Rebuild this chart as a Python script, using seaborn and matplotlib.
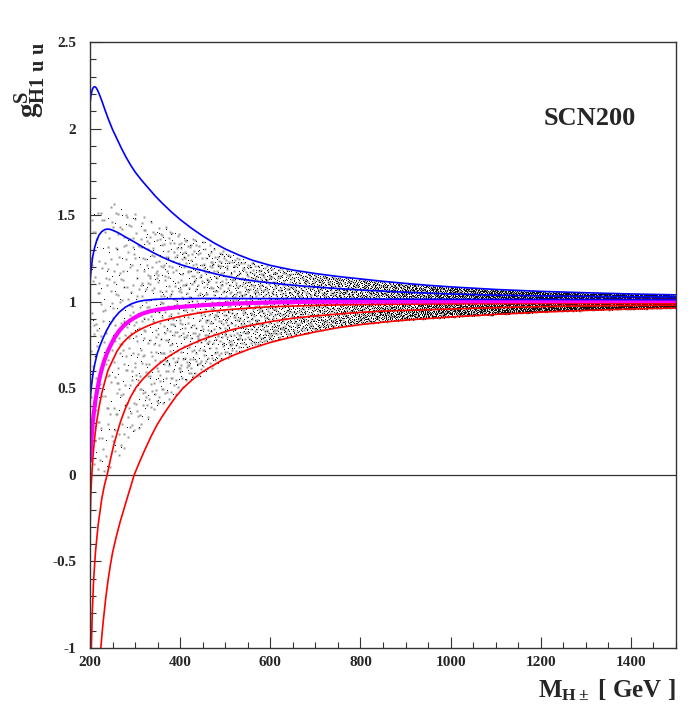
import numpy as np
import pandas as pd
import matplotlib
matplotlib.use("Agg")
import matplotlib.pyplot as plt
import seaborn as sns
from matplotlib.ticker import MultipleLocator, FuncFormatter

# curves: charged Higgs mass [GeV] and coupling
m_blue1 = [200, 202, 205, 208, 211, 214, 218, 222, 227, 233, 240, 250, 260, 270, 280, 290, 300, 315,
           330, 345, 360, 380, 400, 425, 450, 475, 500, 530, 560, 600, 650, 700, 750, 800, 850, 900,
           950, 1000, 1100, 1200, 1300, 1400, 1500]
g_blue1 = [2.14, 2.19, 2.225, 2.24, 2.242, 2.235, 2.215, 2.19, 2.155, 2.11, 2.06, 1.995, 1.94, 1.885,
           1.835, 1.79, 1.75, 1.70, 1.655, 1.61, 1.57, 1.52, 1.475, 1.425, 1.38, 1.34, 1.305, 1.27,
           1.24, 1.21, 1.183, 1.163, 1.146, 1.132, 1.118, 1.106, 1.095, 1.086, 1.071, 1.06, 1.052,
           1.045, 1.04]

m_blue2 = [200, 201, 203, 206, 210, 215, 220, 226, 232, 238, 245, 255, 265, 280, 300, 320, 340, 360,
           380, 400, 425, 450, 475, 500, 535, 575, 625, 675, 750, 800, 900, 1000, 1100, 1200, 1300,
           1400, 1500]
g_blue2 = [1.10, 1.14, 1.20, 1.26, 1.31, 1.355, 1.385, 1.405, 1.416, 1.42, 1.418, 1.408, 1.395, 1.372,
           1.343, 1.312, 1.284, 1.258, 1.235, 1.215, 1.196, 1.18, 1.163, 1.148, 1.131, 1.116, 1.102,
           1.09, 1.076, 1.068, 1.055, 1.045, 1.038, 1.034, 1.031, 1.029, 1.028]

m_blue3 = [200, 202, 204, 207, 211, 216, 222, 229, 237, 245, 255, 265, 278, 292, 305, 320, 340, 370,
           450, 600, 800, 1000, 1500]
g_blue3 = [0.42, 0.48, 0.53, 0.59, 0.645, 0.70, 0.745, 0.79, 0.835, 0.872, 0.91, 0.94, 0.968, 0.988,
           1.0, 1.008, 1.013, 1.017, 1.019, 1.018, 1.016, 1.014, 1.012]

m_mag = [200, 201, 202, 204, 206, 209, 212, 216, 220, 225, 231, 238, 246, 255, 265, 275, 288, 300,
         315, 330, 350, 375, 400, 450, 500, 600, 700, 1000, 1500]
g_mag = [0.08, 0.11, 0.15, 0.23, 0.30, 0.37, 0.43, 0.49, 0.545, 0.60, 0.655, 0.705, 0.75, 0.795,
         0.833, 0.862, 0.89, 0.91, 0.93, 0.943, 0.954, 0.963, 0.97, 0.98, 0.988, 0.996, 1.0, 1.003,
         1.005]

m_red1 = [200, 201, 202, 204, 207, 211, 215, 220, 226, 233, 240, 250, 260, 272, 285, 300, 315, 333,
          355, 380, 400, 430, 460, 500, 550, 600, 700, 800, 1000, 1200, 1500]
g_red1 = [-0.32, -0.20, -0.10, 0.0, 0.12, 0.23, 0.31, 0.39, 0.47, 0.54, 0.605, 0.66, 0.715, 0.76,
          0.795, 0.823, 0.845, 0.866, 0.887, 0.903, 0.915, 0.93, 0.943, 0.953, 0.963, 0.971, 0.979,
          0.984, 0.988, 0.99, 0.99]

m_red2 = [201, 203, 205, 208, 212, 218, 226, 232, 238, 245, 252, 260, 268, 278, 290, 302, 316, 333,
          350, 375, 400, 425, 450, 480, 510, 550, 600, 650, 700, 777, 850, 1000, 1100, 1200, 1300,
          1400, 1500]
g_red2 = [-1.25, -1.0, -0.80, -0.61, -0.45, -0.29, -0.14, -0.06, 0.0, 0.085, 0.165, 0.24, 0.31, 0.38,
          0.45, 0.505, 0.55, 0.595, 0.635, 0.685, 0.725, 0.755, 0.783, 0.81, 0.835, 0.86, 0.885,
          0.905, 0.918, 0.935, 0.946, 0.958, 0.966, 0.972, 0.976, 0.978, 0.98]

m_red3 = [222, 224, 227, 230, 235, 240, 245, 250, 258, 267, 275, 283, 290, 298, 310, 320, 335, 349,
          362, 375, 390, 406, 425, 444, 465, 490, 520, 555, 600, 650, 700, 750, 800, 850, 900, 1000,
          1100, 1200, 1300, 1400, 1500]
g_red3 = [-1.06, -1.0, -0.91, -0.83, -0.71, -0.61, -0.525, -0.45, -0.36, -0.27, -0.20, -0.13, -0.07,
          0.0, 0.075, 0.135, 0.22, 0.29, 0.345, 0.395, 0.45, 0.50, 0.545, 0.585, 0.62, 0.658, 0.693,
          0.728, 0.765, 0.798, 0.826, 0.85, 0.868, 0.882, 0.894, 0.912, 0.927, 0.94, 0.95, 0.958,
          0.964]

# scan cloud: band limits at 50 GeV bin edges and number of points per bin
scan_edges = list(range(200, 1501, 50))
scan_lo = [-0.05, 0.05, 0.22, 0.38, 0.49, 0.585, 0.665, 0.735, 0.77, 0.80, 0.83, 0.853, 0.87, 0.882,
           0.893, 0.902, 0.91, 0.918, 0.925, 0.933, 0.94, 0.945, 0.95, 0.954, 0.957, 0.961, 0.964]
scan_hi = [1.50, 1.59, 1.52, 1.45, 1.40, 1.35, 1.29, 1.235, 1.205, 1.18, 1.16, 1.144, 1.13, 1.116,
           1.104, 1.093, 1.084, 1.076, 1.069, 1.063, 1.058, 1.054, 1.05, 1.047, 1.044, 1.041, 1.039]
n_black = [35, 45, 60, 80, 100, 125, 155, 185, 220, 255, 290, 320, 345, 365, 385, 400, 410, 420, 430,
           440, 440, 440, 440, 440, 440, 440]
n_gray = [85, 105, 115, 125, 130, 130, 125, 120, 110, 100, 95, 90, 85, 80, 75, 75, 75, 75, 75, 75,
          75, 75, 75, 75, 75, 75]


def halton(i, b):
    f, r = 1.0, 0.0
    while i > 0:
        f /= b
        r += f * (i % b)
        i //= b
    return r


def spread(counts, b1, b2, start, leap):
    # lay the points of each bin out evenly inside the band
    rows = []
    k = start
    for j, n in enumerate(counts):
        e0, e1 = scan_edges[j], scan_edges[j + 1]
        for _ in range(n):
            k += 1
            u, v = halton(k * leap, b1), halton(k * leap, b2)
            lo = scan_lo[j] + u * (scan_lo[j + 1] - scan_lo[j])
            hi = scan_hi[j] + u * (scan_hi[j + 1] - scan_hi[j])
            rows.append((e0 + u * (e1 - e0), lo + v * (hi - lo)))
    return pd.DataFrame(rows, columns=["M", "g"])


scan_black = spread(n_black, 2, 3, 0, 409)
scan_gray = spread(n_gray, 5, 7, 29, 211)

sns.set_style("ticks")
plt.rcParams["font.family"] = ["Liberation Serif", "DejaVu Serif"]
plt.rcParams["font.weight"] = "bold"
plt.rcParams["mathtext.fontset"] = "custom"
plt.rcParams["mathtext.rm"] = "Liberation Serif:bold"
plt.rcParams["mathtext.bf"] = "Liberation Serif:bold"
plt.rcParams["mathtext.it"] = "Liberation Serif:bold"

fig = plt.figure(figsize=(6.96, 7.14), dpi=100)
ax = fig.add_axes([0.1293, 0.0924, 0.8420, 0.8487])

sns.scatterplot(data=scan_gray, x="M", y="g", color="#9a9a9a", s=2.07, marker="s", linewidth=0,
                antialiased=False, snap=False, ax=ax)
sns.scatterplot(data=scan_black, x="M", y="g", color="#111111", s=0.52, marker="s", linewidth=0,
                antialiased=False, snap=False, ax=ax)

ax.axhline(0, color="#333333", lw=0.9, zorder=1)

for m, g, c, w in [(m_red3, g_red3, "red", 1.2), (m_red2, g_red2, "red", 1.2), (m_red1, g_red1, "red", 1.2),
                   (m_mag, g_mag, "magenta", 3.0), (m_blue3, g_blue3, "blue", 1.2),
                   (m_blue2, g_blue2, "blue", 1.2), (m_blue1, g_blue1, "blue", 1.2)]:
    sns.lineplot(x=m, y=g, color=c, lw=w, sort=False, estimator=None, ax=ax)

ax.set_xlim(200, 1500)
ax.set_ylim(-1, 2.5)
ax.xaxis.set_major_locator(MultipleLocator(200))
ax.xaxis.set_minor_locator(MultipleLocator(50))
ax.yaxis.set_major_locator(MultipleLocator(0.5))
ax.yaxis.set_minor_locator(MultipleLocator(0.1))
fmt = FuncFormatter(lambda v, p: f"{v:g}")
ax.xaxis.set_major_formatter(fmt)
ax.yaxis.set_major_formatter(fmt)
ax.tick_params(which="both", direction="in", top=False, right=False, width=0.8, color="#333333",
               labelsize=11)
ax.tick_params(which="major", length=8)
ax.tick_params(which="minor", length=4)
ax.tick_params(axis="x", pad=6)
ax.tick_params(axis="y", pad=10)
for s in ax.spines.values():
    s.set_linewidth(1.0)
    s.set_color("#333333")
ax.set_xlabel("")
ax.set_ylabel("")

ax.text(1309, 2.056, "SCN200", ha="center", va="center", fontsize=19, fontweight="bold")
ax.text(1.0, -0.081, r"$\mathbf{M_{H\pm}}$ [ GeV ]", transform=ax.transAxes, ha="right",
        va="baseline", fontsize=18, fontweight="bold")
ax.text(-0.133, 1.0, r"$\mathbf{g^{S}_{H1\ u\ u}}$", transform=ax.transAxes, rotation=90,
        ha="left", va="top", fontsize=21)

fig.savefig("out.png", dpi=100)
